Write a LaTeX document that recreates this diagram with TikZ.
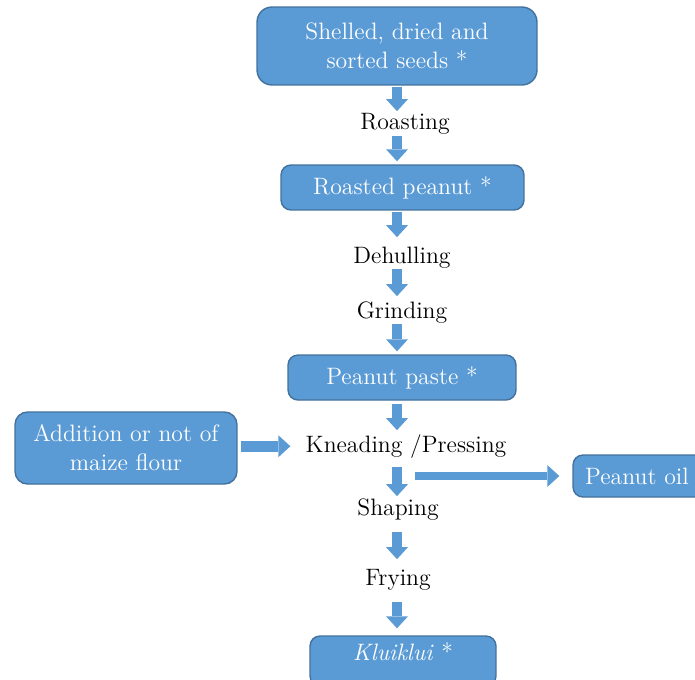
\documentclass[tikz,border=0pt]{standalone}
\usepackage{tikz}
\usetikzlibrary{arrows.meta, positioning, calc}
\definecolor{boxblue}{RGB}{91,155,213}
\definecolor{boxedge}{RGB}{65,113,156}

\begin{document}
\begin{tikzpicture}[x=0.02cm, y=-0.02cm,
    every node/.style={font=\fontsize{13.5}{16.5}\selectfont},
    stage/.style={draw=boxedge, fill=boxblue, line width=0.8pt, rounded corners=0.2cm,
        text=white, align=center, inner sep=0pt},
    process/.style={inner sep=0pt, text height=0.33cm, text depth=0.1cm, anchor=base},
    flow/.style={draw=boxblue, line width=0.2cm,
        -{Triangle[width=0.44cm, length=0.24cm, line width=0pt]}}]
    \useasboundingbox (0,0) rectangle (695,679);

    % Products (boxes)
    \node[stage, rounded corners=0.3cm, minimum width=5.6cm, minimum height=1.56cm]
        (seeds) at (397,46) {Shelled, dried and\\sorted seeds *};
    \node[stage, minimum width=4.86cm, minimum height=0.9cm] (roasted) at (402.5,187.5) {Roasted peanut *};
    \node[stage, minimum width=4.56cm, minimum height=0.9cm] (paste) at (402,377.5) {Peanut paste *};
    \node[stage, rounded corners=0.25cm, minimum width=4.44cm, minimum height=1.44cm]
        (maize) at (126,448) {Addition or not of\\maize flour};
    \node[stage, minimum width=2.76cm, minimum height=0.84cm] (oil) at (642,476) {Peanut oil\hspace*{0.2cm}};
    \node[stage, minimum width=3.72cm, minimum height=1cm, text height=0.33cm, text depth=0.37cm]
        (klui) at (403,661) {\textit{Kluiklui} *};

    % Operations (plain text)
    \node[process] (roast) at (405,129) {Roasting};
    \node[process] (dehull) at (402,263) {Dehulling};
    \node[process] (grind) at (402,318) {Grinding};
    \node[process] (knead) at (406,452) {Kneading /Pressing};
    \node[process] (shape) at (398,515) {Shaping};
    \node[process] (fry) at (398,585) {Frying};

    % Main line of the process
    \coordinate (spine) at (397,0);
    \foreach \a/\b/\s/\e in {seeds/roast/.02/.02, roast/roasted/.04/.06, roasted/dehull/.02/.18,
        dehull/grind/.02/.1, grind/paste/.02/.06, paste/knead/.06/.1,
        knead/shape/.2/.04, shape/fry/.24/.18, fry/klui/.24/.14} {
        \draw[flow, shorten <=\s cm, shorten >=\e cm] (\a.south -| spine) -- (\b.north -| spine);
    }

    % Side input and output
    \draw[flow, line width=0.23cm, shorten <=0.06cm, shorten >=0.3cm] (maize.east |- knead) -- (knead.west);
    \coordinate (press) at (415,476);
    \draw[flow, line width=0.17cm, shorten >=0.26cm] (press) -- (oil);

\end{tikzpicture}
\end{document}
